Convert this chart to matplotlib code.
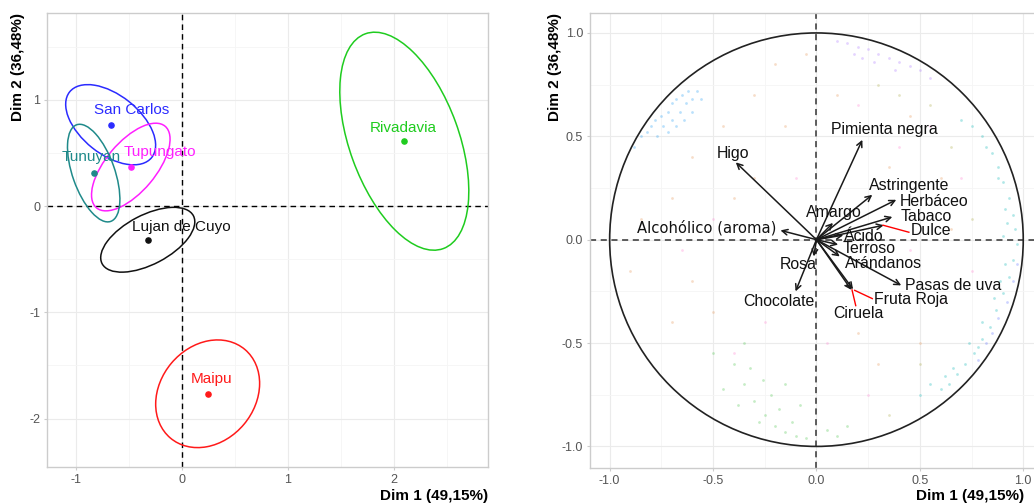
import numpy as np
import matplotlib
matplotlib.use("Agg")
import matplotlib.pyplot as plt
from matplotlib.patches import Ellipse, Circle

plt.rcParams['font.family'] = ['Liberation Sans', 'DejaVu Sans']
plt.rcParams['axes.unicode_minus'] = False

# Individuals: group means on the first two dimensions
regions = ['San Carlos', 'Tupungato', 'Tunuyan', 'Lujan de Cuyo', 'Rivadavia', 'Maipu']
dim1 = [-0.67, -0.48, -0.83, -0.32, 2.10, 0.245]
dim2 = [0.765, 0.367, 0.31, -0.317, 0.61, -1.766]
region_colors = ['#2B2BFF', '#FF1FFF', '#1F8A8A', '#111111', '#1FCC1F', '#FF1A1A']

# Confidence ellipses: semi-major, semi-minor, angle (deg)
ell_a = [0.495, 0.502, 0.482, 0.486, 1.075, 0.545]
ell_b = [0.278, 0.235, 0.199, 0.232, 0.516, 0.447]
ell_ang = [-38.5, 49.8, -70.5, 27.6, -70.0, 49.8]

# Variables: coordinates on the correlation circle
variables = ['Pimienta negra', 'Higo', 'Astringente', 'Herbáceo', 'Tabaco', 'Dulce',
             'Alcohólico (aroma)', 'Amargo', 'Ácido', 'Terroso', 'Arándanos',
             'Pasas de uva', 'Fruta Roja', 'Ciruela', 'Rosa', 'Chocolate']
var_d1 = [0.222, -0.39, 0.27, 0.386, 0.367, 0.325, -0.174, 0.08, 0.13, 0.105, 0.113,
          0.41, 0.177, 0.169, -0.013, -0.101]
var_d2 = [0.483, 0.374, 0.217, 0.193, 0.110, 0.070, 0.045, 0.081, 0.022, -0.024, -0.081,
          -0.221, -0.24, -0.243, -0.081, -0.25]

# Background cloud on the circle (faint points, grouped by colour)
cloud_blue_x = [-0.80, -0.78, -0.75, -0.72, -0.70, -0.68, -0.65, -0.62, -0.85, -0.82, -0.74,
                -0.70, -0.66, -0.63, -0.60, -0.58, -0.77, -0.72, -0.68, -0.88, -0.64, -0.56, -0.60]
cloud_blue_y = [0.55, 0.58, 0.60, 0.62, 0.66, 0.68, 0.70, 0.72, 0.50, 0.52, 0.55,
                0.58, 0.62, 0.66, 0.68, 0.72, 0.50, 0.52, 0.55, 0.45, 0.58, 0.68, 0.62]
cloud_cyan_x = [0.75, 0.80, 0.85, 0.88, 0.90, 0.93, 0.95, 0.96, 0.97, 0.95, 0.93, 0.90,
                0.87, 0.84, 0.80, 0.76, 0.72, 0.68, 0.64, 0.60, 0.82, 0.88, 0.91, 0.90,
                0.91, 0.86, 0.80, 0.74, 0.66, 0.70, 0.92, 0.89, 0.78, 0.62, 0.55, 0.50]
cloud_cyan_y = [0.55, 0.50, 0.42, 0.35, 0.28, 0.20, 0.12, 0.05, -0.02, -0.10, -0.18, -0.26,
                -0.34, -0.42, -0.48, -0.55, -0.60, -0.65, -0.70, -0.72, 0.45, 0.30, 0.15, 0.02,
                -0.12, -0.28, -0.40, -0.50, -0.62, 0.58, 0.08, -0.20, -0.52, -0.66, -0.70, -0.75]
cloud_violet_x = [0.92, 0.88, 0.85, 0.95, 0.97, 0.82, 0.78]
cloud_violet_y = [-0.30, -0.38, -0.45, -0.20, -0.12, -0.50, -0.58]
cloud_purple_x = [0.15, 0.20, 0.25, 0.30, 0.35, 0.40, 0.45, 0.50, 0.10, 0.28, 0.38, 0.22, 0.55, 0.18]
cloud_purple_y = [0.95, 0.93, 0.92, 0.90, 0.88, 0.86, 0.84, 0.82, 0.96, 0.86, 0.82, 0.88, 0.78, 0.90]
cloud_green_x = [-0.40, -0.35, -0.30, -0.25, -0.20, -0.15, -0.10, -0.05, -0.32, -0.22, -0.18,
                 -0.12, -0.28, -0.38, -0.45, -0.08, 0.05, 0.10, -0.50, -0.26, -0.15, -0.35, 0.15]
cloud_green_y = [-0.60, -0.70, -0.78, -0.85, -0.90, -0.93, -0.95, -0.96, -0.62, -0.75, -0.82,
                 -0.88, -0.88, -0.80, -0.72, -0.80, -0.92, -0.95, -0.55, -0.68, -0.70, -0.50, -0.90]
cloud_orange_x = [-0.6, -0.45, -0.3, -0.2, -0.05, -0.7, -0.85, -0.6, -0.7, -0.5, -0.3, 0.1,
                  0.45, 0.6, 0.5, 0.3, 0.2, -0.4, -0.9, 0.65, 0.35, -0.15]
cloud_orange_y = [0.4, 0.55, 0.7, 0.85, 0.9, 0.2, 0.1, -0.2, -0.4, -0.35, 0.3, 0.7,
                  0.6, 0.3, -0.5, -0.6, -0.45, 0.2, -0.15, 0.05, 0.35, 0.55]
cloud_pink_x = [-0.5, -0.25, 0.05, 0.4, 0.7, 0.6, -0.65, 0.2, -0.1, 0.45, 0.75, -0.4, 0.25, 0.55]
cloud_pink_y = [0.1, -0.4, -0.5, 0.45, 0.3, -0.3, -0.05, 0.65, 0.3, -0.05, -0.15, -0.55, -0.75, 0.55]
cloud_olive_x = [0.3, 0.55, 0.65, 0.4, 0.75, 0.5, 0.35]
cloud_olive_y = [0.75, 0.65, 0.45, 0.7, 0.1, -0.6, -0.85]

fig = plt.figure(figsize=(10.34, 5.04), dpi=100)

# ---------------- individuals map ----------------
ax1 = fig.add_axes([0.0455, 0.0734, 0.4265, 0.9008])
ax1.set_xlim(-1.27, 2.89)
ax1.set_ylim(-2.455, 1.816)

# label offsets (repelled text positions)
lab_pos = [(-0.47, 0.90), (-0.21, 0.51), (-0.85, 0.46), (0.0, -0.195), (2.09, 0.73), (0.28, -1.63)]

for i, name in enumerate(regions):
    c = region_colors[i]
    ax1.add_patch(Ellipse((dim1[i], dim2[i]), 2 * ell_a[i], 2 * ell_b[i], angle=ell_ang[i],
                          fill=False, edgecolor=c, lw=1.1, zorder=3))
    ax1.scatter(dim1[i], dim2[i], s=14, color=c, zorder=4)
    ax1.text(lab_pos[i][0], lab_pos[i][1], name, color=c, fontsize=11,
             ha='center', va='center', zorder=5)

ax1.axhline(0, color='black', ls=(0, (4, 3)), lw=1, zorder=2)
ax1.axvline(0, color='black', ls=(0, (4, 3)), lw=1, zorder=2)
ax1.set_xticks([-1, 0, 1, 2])
ax1.set_yticks([-2, -1, 0, 1])
ax1.set_xticks([-0.5, 0.5, 1.5, 2.5], minor=True)
ax1.set_yticks([-1.5, -0.5, 0.5, 1.5], minor=True)

# ---------------- variables map ----------------
ax2 = fig.add_axes([0.5706, 0.072, 0.439, 0.9016])
ax2.set_xlim(-1.095, 1.1)
ax2.set_ylim(-1.103, 1.095)

clouds = [(cloud_blue_x, cloud_blue_y, '#3AA8F5'), (cloud_cyan_x, cloud_cyan_y, '#22BDBD'),
          (cloud_violet_x, cloud_violet_y, '#7080FF'), (cloud_purple_x, cloud_purple_y, '#B585FF'),
          (cloud_green_x, cloud_green_y, '#5CCB5C'), (cloud_orange_x, cloud_orange_y, '#E8A066'),
          (cloud_pink_x, cloud_pink_y, '#FF8FD6'), (cloud_olive_x, cloud_olive_y, '#B3B35A')]
for cx, cy, c in clouds:
    ax2.scatter(cx, cy, s=4, color=c, alpha=0.35, lw=0, zorder=1)

ax2.add_patch(Circle((0, 0), 1, fill=False, edgecolor='#222222', lw=1.2, zorder=3))
ax2.axhline(0, color='#333333', ls=(0, (4, 3)), lw=1.1, zorder=2)
ax2.axvline(0, color='#333333', ls=(0, (4, 3)), lw=1.1, zorder=2)

var_lab = [(0.328, 0.532), (-0.404, 0.415), (0.446, 0.260), (0.567, 0.185), (0.531, 0.113),
           (0.556, 0.045), (-0.53, 0.057), (0.084, 0.132), (0.229, 0.016), (0.253, -0.045),
           (0.326, -0.117), (0.662, -0.221), (0.455, -0.29), (0.201, -0.356), (-0.087, -0.118),
           (-0.182, -0.301)]
# connector segments for labels pushed away from their arrow
links = {'Dulce': ((0.322, 0.070), (0.447, 0.036)),
         'Fruta Roja': ((0.185, -0.245), (0.270, -0.285)),
         'Ciruela': ((0.172, -0.243), (0.190, -0.319))}

for i, name in enumerate(variables):
    ax2.annotate('', xy=(var_d1[i], var_d2[i]), xytext=(0, 0),
                 arrowprops=dict(arrowstyle='->', color='#1a1a1a', lw=1.1,
                                 mutation_scale=10, shrinkA=0, shrinkB=0), zorder=4)
    if name == 'Alcohólico (aroma)':
        ax2.text(var_lab[i][0], var_lab[i][1], name, fontsize=10.6, color='#111111',
                 family='DejaVu Sans', ha='center', va='center', zorder=5)
    else:
        ax2.text(var_lab[i][0], var_lab[i][1], name, fontsize=11.4, color='#111111',
                 ha='center', va='center', zorder=5)
    if name in links:
        (x0, y0), (x1, y1) = links[name]
        ax2.plot([x0, x1], [y0, y1], color='red', lw=1, zorder=4)

ax2.set_xticks([-1.0, -0.5, 0.0, 0.5, 1.0])
ax2.set_yticks([-1.0, -0.5, 0.0, 0.5, 1.0])
ax2.set_xticks([-0.75, -0.25, 0.25, 0.75], minor=True)
ax2.set_yticks([-0.75, -0.25, 0.25, 0.75], minor=True)
ax2.xaxis.set_major_formatter(matplotlib.ticker.FormatStrFormatter('%.1f'))
ax2.yaxis.set_major_formatter(matplotlib.ticker.FormatStrFormatter('%.1f'))

for ax in (ax1, ax2):
    ax.set_axisbelow(True)
    ax.grid(True, which='major', color='#EBEBEB', lw=0.8)
    ax.grid(True, which='minor', color='#F5F5F5', lw=0.6)
    for s in ax.spines.values():
        s.set_color('#CCCCCC')
        s.set_linewidth(1)
    ax.tick_params(which='both', length=0, labelsize=9, labelcolor='#555555', pad=3)
    ax.tick_params(which='major', length=2, color='#CCCCCC')

# axis titles placed in figure coordinates
fig.text(488 / 1034, 1 - 496 / 504, 'Dim 1 (49,15%)', fontsize=11, fontweight='bold',
         ha='right', va='center')
fig.text(1024 / 1034, 1 - 496 / 504, 'Dim 1 (49,15%)', fontsize=11, fontweight='bold',
         ha='right', va='center')
fig.text(18 / 1034, 1 - 13 / 504, 'Dim 2 (36,48%)', fontsize=11, fontweight='bold',
         rotation=90, ha='center', va='top')
fig.text(555 / 1034, 1 - 13 / 504, 'Dim 2 (36,48%)', fontsize=11, fontweight='bold',
         rotation=90, ha='center', va='top')

fig.savefig('out.png', dpi=100)
